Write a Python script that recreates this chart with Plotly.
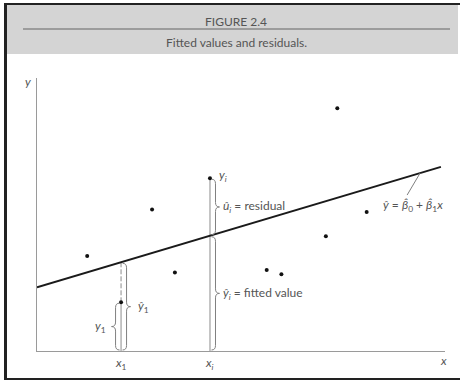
import plotly.graph_objects as go

# ---- data -------------------------------------------------------------
# Sample observations
obs_x = [12.3, 20.6, 28.2, 33.8, 42.4, 56.3, 59.9, 70.8, 73.6, 80.8]
obs_y = [34.8, 17.9, 51.8, 28.8, 63.3, 29.7, 28.1, 42.0, 88.9, 50.9]

# Fitted OLS line: y-hat = b0 + b1 * x
b0 = 23.3
b1 = 0.446
line_x = [0.0, 99.0]

# Observations singled out in the figure
first_idx = 1   # (x1, y1)
ith_idx = 4     # (xi, yi)

title_text = "FIGURE 2.4"
subtitle_text = "Fitted values and residuals."

# ---- geometry ---------------------------------------------------------
W, H = 460, 381
PL, PR, PT, PB = 37, 445, 78, 351          # plot area in pixels
XR, YR = [0, 100], [0, 100]
XPX = (PR - PL) / (XR[1] - XR[0])           # pixels per x unit
YPX = (PB - PT) / (YR[1] - YR[0])           # pixels per y unit

TXT = "#555555"
AX = "#9a9a9a"
FONT = "Lato"


def fit(x):
    return b0 + b1 * x


def px(v):
    return v / XPX


def py(v):
    return v / YPX


def brace(x, lo, hi, side=1, gap=1.5, spine=5.5, tip=9.5, r=4.5):
    """Vertical curly brace next to x spanning lo..hi, tip pointing to side."""
    xa = x + side * px(gap)
    xb = x + side * px(spine)
    xc = x + side * px(tip)
    mid = (lo + hi) / 2
    rr = py(r)
    d = (f"M {xa},{hi} Q {xb},{hi} {xb},{hi - rr} "
         f"L {xb},{mid + rr} Q {xb},{mid} {xc},{mid} "
         f"Q {xb},{mid} {xb},{mid - rr} "
         f"L {xb},{lo + rr} Q {xb},{lo} {xa},{lo}")
    return dict(type="path", path=d, xref="x", yref="y",
                line=dict(color="#808080", width=1))


x1, y1 = obs_x[first_idx], obs_y[first_idx]
xi, yi = obs_x[ith_idx], obs_y[ith_idx]
yh1, yhi = fit(x1), fit(xi)

fig = go.Figure()

# vertical guides at x1 and xi
fig.add_trace(go.Scatter(x=[xi, xi], y=[yi, 0], mode="lines",
                         line=dict(color="#8c8c8c", width=1), hoverinfo="skip"))
fig.add_trace(go.Scatter(x=[x1, x1], y=[yh1, y1], mode="lines",
                         line=dict(color="#8c8c8c", width=1, dash="5px,2px"),
                         hoverinfo="skip"))
fig.add_trace(go.Scatter(x=[x1, x1], y=[y1, 0], mode="lines",
                         line=dict(color="#8c8c8c", width=1), hoverinfo="skip"))

# fitted line
fig.add_trace(go.Scatter(x=line_x, y=[fit(v) for v in line_x], mode="lines",
                         line=dict(color="#1a1a1a", width=2), hoverinfo="skip"))

# leader from the line to its equation
lead_x = 93.9
fig.add_trace(go.Scatter(x=[lead_x, lead_x - px(13)],
                         y=[fit(lead_x), fit(lead_x) - py(22)], mode="lines",
                         line=dict(color="#808080", width=1), hoverinfo="skip"))

# observations
fig.add_trace(go.Scatter(x=obs_x, y=obs_y, mode="markers",
                         marker=dict(color="#111111", size=4), hoverinfo="skip"))

shapes = [
    # header band and rule
    dict(type="rect", xref="paper", yref="paper", x0=7 / W, x1=458 / W,
         y0=1 - 54 / H, y1=1 - 5 / H, fillcolor="#d4d4d4", line=dict(width=0),
         layer="below"),
    dict(type="line", xref="paper", yref="paper", x0=23 / W, x1=450 / W,
         y0=1 - 29 / H, y1=1 - 29 / H, line=dict(color="#8a8a8a", width=1.5)),
    # frame
    dict(type="line", xref="paper", yref="paper", x0=4 / W, x1=1,
         y0=1 - 4 / H, y1=1 - 4 / H, line=dict(color="#222222", width=2)),
    dict(type="line", xref="paper", yref="paper", x0=5.5 / W, x1=5.5 / W,
         y0=1 - 3 / H, y1=1 - 380 / H, line=dict(color="#222222", width=3)),
    dict(type="line", xref="paper", yref="paper", x0=4 / W, x1=1,
         y0=1 - 379 / H, y1=1 - 379 / H, line=dict(color="#222222", width=2)),
    # braces
    brace(xi, yhi + py(1), yi - py(1), side=1),
    brace(xi, py(1), yhi - py(1), side=1),
    brace(x1, py(1), yh1 - py(1), side=1),
    brace(x1, py(1), y1 - py(1), side=-1),
]


def note(text, x, y, anchor="left", xshift=0, yshift=0, size=12, ref="data"):
    r = dict(xref="x", yref="y") if ref == "data" else dict(xref="paper", yref="paper")
    return dict(text=text, x=x, y=y, xanchor=anchor, yanchor="middle",
                xshift=xshift, yshift=yshift, showarrow=False,
                font=dict(family=FONT, size=size, color=TXT), **r)


annotations = [
    note(title_text, 236 / W, 1 - 21.5 / H, anchor="center", ref="paper", size=12),
    note(subtitle_text, 236 / W, 1 - 42.5 / H, anchor="center", ref="paper", size=12),
    note("<i>y</i>", 0, YR[1], anchor="center", xshift=-9, yshift=-4),
    note("<i>x</i>", XR[1], 0, anchor="center", xshift=-2, yshift=-9),
    note("<i>x</i><sub>1</sub>", x1, 0, anchor="center", yshift=-12),
    note("<i>x<sub>i</sub></i>", xi, 0, anchor="center", yshift=-12),
    note("<i>y<sub>i</sub></i>", xi, yi, xshift=7, yshift=3),
    note("<i>û<sub>i</sub></i> = residual", xi, (yi + yhi) / 2, xshift=11),
    note("<i>ŷ<sub>i</sub></i> = fitted value", xi, yhi / 2, xshift=11),
    note("<i>ŷ</i><sub>1</sub>", x1, yh1 / 2, xshift=15),
    note("<i>y</i><sub>1</sub>", x1, y1 / 2, anchor="right", xshift=-13),
    note("<i>ŷ</i> = <i>β̂</i><sub>0</sub> + <i>β̂</i><sub>1</sub><i>x</i>",
         92.2, fit(lead_x) - py(32), anchor="center"),
]

fig.update_layout(
    width=W, height=H, margin=dict(l=0, r=0, t=0, b=0),
    paper_bgcolor="white", plot_bgcolor="white", showlegend=False,
    shapes=shapes, annotations=annotations,
    xaxis=dict(domain=[PL / W, PR / W], range=XR, showgrid=False, zeroline=False,
               showticklabels=False, ticks="", showline=True, linecolor=AX,
               linewidth=1),
    yaxis=dict(domain=[1 - PB / H, 1 - PT / H], range=YR, showgrid=False,
               zeroline=False, showticklabels=False, ticks="", showline=True,
               linecolor=AX, linewidth=1),
)

fig.write_html("out.html")
